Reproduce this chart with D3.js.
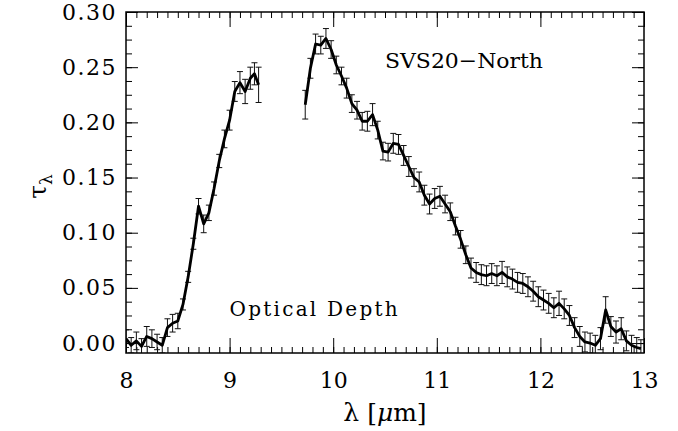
<!DOCTYPE html>
<html>
<head>
<meta charset="utf-8">
<script src="https://cdn.jsdelivr.net/npm/d3@7"></script>
<style>
  body { margin: 0; background: #fff; }
  svg { display: block; }
  svg text { font-family: "DejaVu Serif", "Liberation Serif", serif; }
  .axis text { font-size: 22px; fill: #000; }
  .axis.yl text { letter-spacing: 1.5px; }
  .axis path { display: none; }
  .axis line { stroke: #000; stroke-width: 1; }
</style>
</head>
<body>
<div id="chart"></div>
<script>
// wavelength (micron), optical depth, 1-sigma error
var lam1 = [8.00, 8.05, 8.10, 8.15, 8.20, 8.25, 8.30, 8.35, 8.40, 8.45, 8.50, 8.55, 8.60,
            8.65, 8.70, 8.75, 8.80, 8.85, 8.90, 8.95, 9.00, 9.05, 9.10, 9.15, 9.20, 9.24, 9.28];
var tau1 = [0.004, -0.002, 0.002, -0.003, 0.006, 0.004, 0.001, -0.002, 0.014, 0.018, 0.020, 0.035, 0.060,
            0.090, 0.124, 0.108, 0.118, 0.140, 0.165, 0.185, 0.202, 0.228, 0.236, 0.228, 0.240, 0.244, 0.234];
var err1 = [0.008, 0.007, 0.008, 0.007, 0.009, 0.008, 0.007, 0.007, 0.008, 0.008, 0.007, 0.005, 0.005,
            0.005, 0.007, 0.008, 0.007, 0.006, 0.006, 0.008, 0.009, 0.009, 0.010, 0.011, 0.010, 0.010, 0.016];

var lam2 = [9.73, 9.78, 9.83, 9.88, 9.93, 9.98, 10.03, 10.08, 10.13, 10.18, 10.23, 10.28, 10.33,
            10.38, 10.43, 10.48, 10.53, 10.58, 10.63, 10.68, 10.73, 10.78, 10.83, 10.88, 10.93, 10.98,
            11.03, 11.08, 11.13, 11.18, 11.23, 11.28, 11.33, 11.38, 11.43, 11.48, 11.53, 11.58, 11.63,
            11.68, 11.73, 11.78, 11.83, 11.88, 11.93, 11.98, 12.03, 12.08, 12.13, 12.18, 12.23, 12.28,
            12.33, 12.38, 12.43, 12.48, 12.53, 12.58, 12.63, 12.68, 12.73, 12.78, 12.83, 12.88, 12.93, 12.97];
var tau2 = [0.216, 0.249, 0.271, 0.270, 0.276, 0.266, 0.252, 0.242, 0.231, 0.217, 0.211, 0.201, 0.201,
            0.207, 0.193, 0.174, 0.173, 0.181, 0.180, 0.170, 0.160, 0.150, 0.146, 0.134, 0.126, 0.131,
            0.133, 0.126, 0.119, 0.106, 0.094, 0.080, 0.068, 0.064, 0.062, 0.061, 0.063, 0.061, 0.064,
            0.060, 0.058, 0.055, 0.054, 0.051, 0.047, 0.042, 0.039, 0.036, 0.032, 0.036, 0.031, 0.025,
            0.014, 0.006, 0.001, 0.000, -0.002, 0.004, 0.030, 0.015, 0.010, 0.013, 0.002, -0.002, -0.004, -0.005];
var err2 = [0.013, 0.009, 0.009, 0.008, 0.009, 0.008, 0.008, 0.008, 0.009, 0.008, 0.008, 0.008, 0.009,
            0.010, 0.008, 0.008, 0.008, 0.009, 0.009, 0.009, 0.009, 0.008, 0.009, 0.009, 0.009, 0.009,
            0.009, 0.008, 0.008, 0.008, 0.008, 0.008, 0.009, 0.009, 0.009, 0.009, 0.009, 0.009, 0.010,
            0.009, 0.009, 0.009, 0.009, 0.009, 0.009, 0.009, 0.009, 0.009, 0.009, 0.011, 0.009, 0.009,
            0.009, 0.009, 0.009, 0.009, 0.009, 0.010, 0.012, 0.009, 0.010, 0.010, 0.009, 0.009, 0.009, 0.008];

var xMajor = [8, 9, 10, 11, 12, 13];
var yMajor = [0.00, 0.05, 0.10, 0.15, 0.20, 0.25, 0.30];
var title = 'SVS20−North';
var note = 'Optical Depth';

var margin = {top: 12, right: 34, bottom: 78, left: 126},
    width = 678 - margin.left - margin.right,
    height = 431 - margin.top - margin.bottom;

var x = d3.scaleLinear().domain([8, 13]).range([0, width]);
var y = d3.scaleLinear().domain([-0.009, 0.30]).range([height, 0]);

var svg = d3.select("#chart").append("svg")
    .attr("width", 678)
    .attr("height", 431)
  .append("g")
    .attr("transform", "translate(" + margin.left + "," + margin.top + ")");

var xMinor = d3.range(80, 131).map(function(d) { return d / 10; });
var yMinor = d3.range(0, 25).map(function(d) { return d * 0.0125; });

// minor ticks, all four sides
svg.append("g").attr("class", "axis").attr("transform", "translate(0," + height + ")")
    .call(d3.axisBottom(x).tickValues(xMinor).tickSize(-6).tickFormat(""));
svg.append("g").attr("class", "axis")
    .call(d3.axisTop(x).tickValues(xMinor).tickSize(-6).tickFormat(""));
svg.append("g").attr("class", "axis")
    .call(d3.axisLeft(y).tickValues(yMinor).tickSize(-6).tickFormat(""));
svg.append("g").attr("class", "axis").attr("transform", "translate(" + width + ",0)")
    .call(d3.axisRight(y).tickValues(yMinor).tickSize(-6).tickFormat(""));

// major ticks
svg.append("g").attr("class", "axis").attr("transform", "translate(0," + height + ")")
    .call(d3.axisBottom(x).tickValues(xMajor).tickSize(-15).tickPadding(19).tickFormat(d3.format("d")))
    .attr("font-family", null);
svg.append("g").attr("class", "axis")
    .call(d3.axisTop(x).tickValues(xMajor).tickSize(-15).tickFormat(""));
svg.append("g").attr("class", "axis yl")
    .call(d3.axisLeft(y).tickValues(yMajor).tickSize(-12).tickPadding(9).tickFormat(d3.format(".2f")))
    .attr("font-family", null);
svg.append("g").attr("class", "axis").attr("transform", "translate(" + width + ",0)")
    .call(d3.axisRight(y).tickValues(yMajor).tickSize(-12).tickFormat(""));

var segs = [
  lam1.map(function(l, i) { return {l: l, t: tau1[i], e: err1[i]}; }),
  lam2.map(function(l, i) { return {l: l, t: tau2[i], e: err2[i]}; })
];
var pts = segs[0].concat(segs[1]);

svg.append("clipPath").attr("id", "clip")
  .append("rect").attr("width", width).attr("height", height);
var plot = svg.append("g").attr("clip-path", "url(#clip)");

// error bars
var eb = plot.selectAll(".eb").data(pts).enter().append("g").attr("class", "eb")
    .attr("stroke", "#111").attr("stroke-width", 1);
eb.append("line")
    .attr("x1", function(d) { return x(d.l); }).attr("x2", function(d) { return x(d.l); })
    .attr("y1", function(d) { return y(d.t - d.e); }).attr("y2", function(d) { return y(d.t + d.e); });
eb.append("line")
    .attr("x1", function(d) { return x(d.l) - 3; }).attr("x2", function(d) { return x(d.l) + 3; })
    .attr("y1", function(d) { return y(d.t + d.e); }).attr("y2", function(d) { return y(d.t + d.e); });
eb.append("line")
    .attr("x1", function(d) { return x(d.l) - 3; }).attr("x2", function(d) { return x(d.l) + 3; })
    .attr("y1", function(d) { return y(d.t - d.e); }).attr("y2", function(d) { return y(d.t - d.e); });

var line = d3.line().x(function(d) { return x(d.l); }).y(function(d) { return y(d.t); });
plot.selectAll(".spec").data(segs).enter().append("path")
    .attr("class", "spec")
    .attr("d", line)
    .attr("fill", "none")
    .attr("stroke", "#000")
    .attr("stroke-width", 2.8)
    .attr("stroke-linejoin", "round");

// frame
svg.append("rect").attr("width", width).attr("height", height)
    .attr("fill", "none").attr("stroke", "#000").attr("stroke-width", 1.5);

// annotations
svg.append("text")
    .attr("x", x(10.5)).attr("y", 56)
    .attr("textLength", 158).attr("lengthAdjust", "spacingAndGlyphs")
    .style("font-size", "21px")
    .text(title);
svg.append("text")
    .attr("x", x(9.0)).attr("y", 304)
    .attr("textLength", 168).attr("lengthAdjust", "spacing")
    .style("font-size", "20px")
    .text(note);

// axis titles
var xt = svg.append("text")
    .attr("x", x(10.5)).attr("y", height + 68)
    .attr("text-anchor", "middle")
    .style("font-size", "25px");
xt.append("tspan").text("λ [");
xt.append("tspan").style("font-style", "italic").text("μ");
xt.append("tspan").text("m]");

var yt = svg.append("text")
    .attr("transform", "translate(" + (-80) + "," + (y(0.15) + 9) + ") rotate(-90)")
    .attr("text-anchor", "middle")
    .style("font-size", "25px");
yt.append("tspan").text("τ");
yt.append("tspan").attr("dy", 6).style("font-size", "17px").text("λ");
</script>
</body>
</html>
